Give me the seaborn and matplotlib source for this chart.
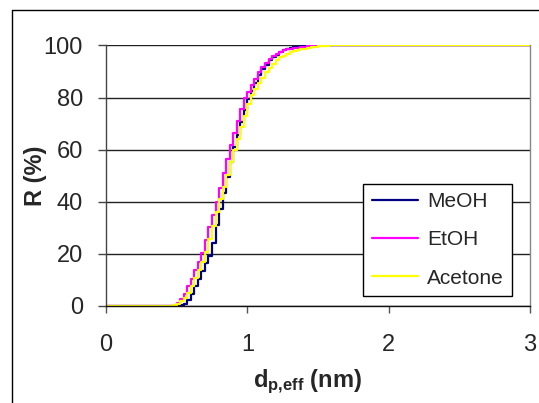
import pandas as pd
import matplotlib
matplotlib.use("Agg")
import matplotlib.pyplot as plt
import seaborn as sns

# effective pore diameter grid (nm) and cumulative rejection R (%)
d_eff = [0.0, 0.45, 0.475, 0.50, 0.525, 0.55, 0.575, 0.60, 0.625, 0.65, 0.675,
         0.70, 0.725, 0.75, 0.775, 0.80, 0.825, 0.85, 0.875, 0.90, 0.925,
         0.95, 0.975, 1.00, 1.025, 1.05, 1.075, 1.10, 1.125, 1.15, 1.175,
         1.20, 1.225, 1.25, 1.275, 1.30, 1.325, 1.35, 1.375, 1.40, 1.425,
         1.45, 1.475, 1.50, 1.525, 1.55, 1.575, 1.60, 3.0]

meoh = [0, 0, 0, 0, 0.2, 0.6, 2.2, 4.7, 7.5, 10.5, 13.5,
        16.5, 19.3, 24.0, 31.0, 37.3, 43.4, 49.4, 55.4, 61.2, 65.8,
        70.5, 75.2, 79.5, 82.7, 85.7, 88.8, 91.0, 92.7, 94.3, 95.6,
        96.5, 97.4, 98.1, 98.6, 99.0, 99.3, 99.6, 99.8, 99.95, 100,
        100, 100, 100, 100, 100, 100, 100, 100]

etoh = [0, 0, 0.4, 1.2, 2.6, 4.6, 7.5, 10.5, 13.8, 17.0, 20.5,
        25.4, 30.2, 35.0, 39.8, 45.3, 50.9, 56.4, 61.7, 66.4, 71.1,
        75.8, 80.0, 82.3, 84.8, 87.2, 89.7, 91.6, 93.3, 95.0, 96.1,
        96.6, 97.4, 98.1, 98.5, 98.8, 99.0, 99.2, 99.4, 99.5, 99.65,
        99.75, 99.9, 100, 100, 100, 100, 100, 100]

acetone = [0, 0, 0.2, 0.7, 1.8, 3.2, 4.9, 7.6, 10.7, 13.8, 17.0,
           20.7, 25.9, 30.9, 36.0, 41.0, 45.6, 50.4, 55.1, 59.8, 64.2,
           68.6, 73.0, 77.4, 80.9, 83.2, 85.5, 87.7, 90.0, 91.5, 93.0,
           94.5, 95.4, 96.1, 96.7, 97.4, 98.0, 98.3, 98.6, 98.8, 99.05,
           99.3, 99.5, 99.65, 99.8, 99.9, 100, 100, 100]

solvents = ["MeOH", "EtOH", "Acetone"]
colors = {"MeOH": "#000080", "EtOH": "#FF00FF", "Acetone": "#FFFF00"}

df = pd.concat([
    pd.DataFrame({"d": d_eff, "R": vals, "solvent": name})
    for name, vals in zip(solvents, [meoh, etoh, acetone])
])

sns.set_style("white")
plt.rcParams["font.family"] = ["Liberation Sans", "DejaVu Sans"]
plt.rcParams["mathtext.fontset"] = "custom"
plt.rcParams["mathtext.rm"] = "Liberation Sans"
plt.rcParams["mathtext.bf"] = "Liberation Sans:bold"

fig = plt.figure(figsize=(5.39, 4.03), dpi=100)
ax = fig.add_axes([106 / 539, 1 - 306 / 403, 424 / 539, 260.5 / 403])

sns.lineplot(data=df, x="d", y="R", hue="solvent", hue_order=solvents,
             palette=colors, estimator=None, sort=False,
             drawstyle="steps-post", linewidth=1.6, ax=ax)

ax.set_xlim(0, 3)
ax.set_ylim(0, 100)
ax.set_xticks([0, 1, 2, 3])
ax.set_yticks([0, 20, 40, 60, 80, 100])
ax.yaxis.grid(True, color="#222222", linewidth=1)
ax.set_axisbelow(True)

ax.spines["top"].set_visible(False)
ax.spines["left"].set_color("#444444")
ax.spines["right"].set_color("#888888")
ax.spines["bottom"].set_color("#111111")
for sp in ax.spines.values():
    sp.set_linewidth(1)

ax.tick_params(axis="y", direction="out", length=6, width=1, color="#444444",
               labelsize=17, pad=10.5, left=True)
ax.tick_params(axis="x", direction="out", length=5, width=1, color="#555555",
               labelsize=17, pad=15, bottom=True)

ax.set_xlabel(r"$\mathbf{d_{p{,}eff}}$ (nm)", fontsize=17, fontweight="bold")
ax.set_ylabel("R (%)", fontsize=17, fontweight="bold")
ax.xaxis.set_label_coords(0.476, -0.235)
ax.yaxis.set_label_coords(-0.138, 0.5)

leg = ax.legend(loc="lower right", bbox_to_anchor=(0.9575, 0.038),
                fontsize=15, frameon=True, fancybox=False, edgecolor="black",
                framealpha=1, handlelength=2.2, labelspacing=0.93,
                borderpad=0.4, handletextpad=0.45, borderaxespad=0)
leg.get_frame().set_linewidth(1)
for line in leg.get_lines():
    line.set_linewidth(1.6)

# outer chart-area border (only top and left visible in the crop)
fig.add_artist(plt.Line2D([12 / 539, 12 / 539], [0, 1 - 10 / 403],
                          color="black", linewidth=1))
fig.add_artist(plt.Line2D([12 / 539, 1], [1 - 10 / 403, 1 - 10 / 403],
                          color="black", linewidth=1))

fig.savefig("out.png", dpi=100)
